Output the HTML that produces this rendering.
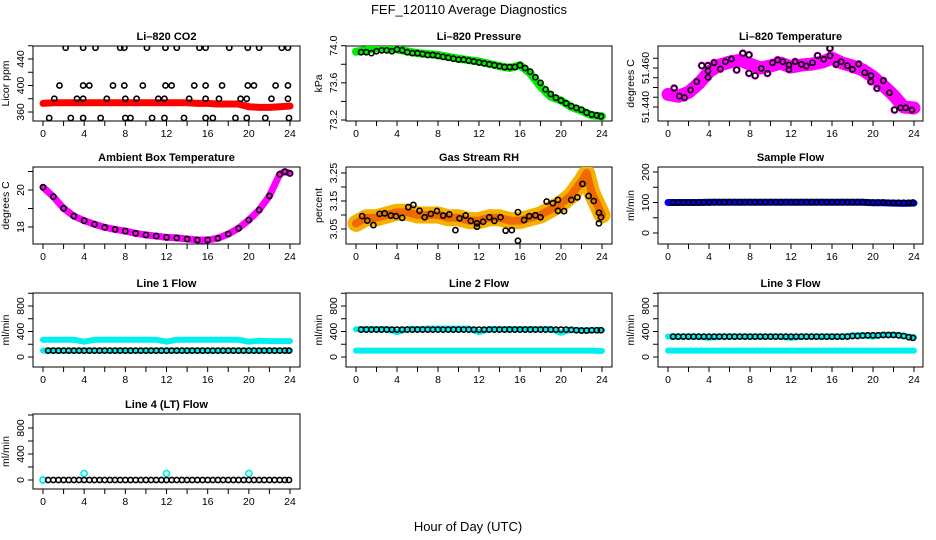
<!DOCTYPE html>
<html><head><meta charset="utf-8">
<style>
body{margin:0;background:#fff;}
svg{display:block;font-family:"Liberation Sans",Arial,sans-serif;}
.tt{font-weight:bold;font-size:11px;text-anchor:middle;}
.tk{font-size:10.5px;text-anchor:middle;}
</style></head>
<body>
<svg id="chart" width="936" height="540" viewBox="0 0 936 540">
<text x="469" y="14" font-size="13" text-anchor="middle">FEF_120110  Average Diagnostics</text>
<text x="468" y="531" font-size="13" text-anchor="middle">Hour of Day (UTC)</text>
</svg>
<script>
// ---------- data ----------
const hours = [0,1,2,3,4,5,6,7,8,9,10,11,12,13,14,15,16,17,18,19,20,21,22,23,24];
const halfHours = [0.5,1,1.5,2,2.5,3,3.5,4,4.5,5,5.5,6,6.5,7,7.5,8,8.5,9,9.5,10,10.5,11,11.5,12,12.5,13,13.5,14,14.5,15,15.5,16,16.5,17,17.5,18,18.5,19,19.5,20,20.5,21,21.5,22,22.5,23,23.5,23.9];

// CO2
const co2Hours = [2.2,3.9,5.1,7.5,7.9,10.1,11.9,13,15.2,15.8,18.1,19.9,21,23.2,23.8, 1.6,3.9,4.5,6.8,7.9,9.7,11.9,12.5,14.7,15.8,17.4,19.9,20.5,22.6,23.8, 1.1,3.3,3.9,6.2,8,9.1,11.2,11.8,14.2,15.8,17.1,19.2,19.8,22.2,23.8, 0.6,2.7,3.9,5.6,8,8.5,10.6,11.8,13.7,15.8,16.5,18.7,19.8,21.6,23.9];
const co2Values = [457,457,457,457,457,457,457,457,457,457,457,457,457,457,457, 400,400,400,400,400,400,400,400,400,400,400,400,400,400,400, 380,380,380,380,380,380,380,380,380,380,380,380,380,380,380, 351,351,351,351,351,351,351,351,351,351,351,351,351,351,351];
const co2Band = [373,374,374,374,374,374,374,374,374,374,374,374,374,374,374,373,373,372,372,372,368,367,367,368,369];

// Pressure
const presHours = [0,2,4,6,8,10,12,14,15,16,17,18,19,20,21,22,23,24];
const presValues = [73.935,73.97,73.96,73.92,73.90,73.86,73.83,73.78,73.76,73.79,73.70,73.56,73.45,73.41,73.34,73.30,73.25,73.24];
const presPoints = [73.93,73.93,73.92,73.94,73.95,73.95,73.94,73.96,73.95,73.93,73.92,73.92,73.91,73.90,73.90,73.89,73.88,73.87,73.86,73.85,73.85,73.84,73.83,73.82,73.81,73.80,73.79,73.78,73.77,73.77,73.77,73.79,73.76,73.72,73.66,73.60,73.53,73.48,73.44,73.41,73.38,73.35,73.33,73.31,73.28,73.26,73.25,73.24];

// Li-820 temperature
const tempHours = [0.6,1.1,1.6,2.2,2.8,3.3,3.9,3.9,3.9,4.5,5.1,5.6,6.2,6.7,7.3,7.9,7.9,8.5,9.1,9.7,10.2,10.7,11.2,11.8,11.8,12.4,13,13.5,14.1,14.6,15.2,15.8,15.8,16.4,16.9,17.5,18,18.6,19.2,19.8,19.8,20.4,21,21.6,22.1,22.7,23.2,23.8];
const tempValues = [51.4496,51.4456,51.4448,51.4487,51.4530,51.4612,51.4612,51.4585,51.4552,51.4627,51.4595,51.4632,51.4646,51.4590,51.4675,51.4667,51.4573,51.4561,51.4598,51.4573,51.4627,51.4641,51.4632,51.4615,51.4593,51.4632,51.4619,51.4610,51.4627,51.4663,51.4645,51.4663,51.4701,51.4619,51.4632,51.4612,51.4593,51.4620,51.4576,51.4561,51.4530,51.4496,51.4535,51.4473,51.4385,51.4396,51.4396,51.4385];
const tempBand = [51.4465,51.4455,51.4475,51.4520,51.4580,51.4615,51.4630,51.4640,51.4620,51.4600,51.4610,51.4625,51.4605,51.4615,51.4620,51.4630,51.4650,51.4625,51.4610,51.4590,51.4555,51.4510,51.4460,51.4400,51.4395];

// Ambient box temperature
const ambHours = [0,1,2,3,4,5,6,7,8,9,10,11,12,13,14,15,16,17,18,19,20,21,22,23,23.5,24];
const ambValues = [20.15,19.64,19.01,18.59,18.34,18.15,17.98,17.87,17.78,17.66,17.57,17.51,17.44,17.41,17.35,17.30,17.30,17.39,17.62,17.93,18.38,18.92,19.68,20.85,20.99,20.90];

// Gas stream RH
const rhHours = [0.6,1.1,1.7,2.3,2.8,3.4,3.9,4.5,5.1,5.6,6.2,6.7,7.3,7.9,8.5,9.1,9.7,10.1,10.7,11.2,11.8,11.8,12.4,13,13.5,14.1,14.6,15.2,15.8,15.8,16.4,16.9,17.5,18,18.6,19.2,19.7,19.7,20.3,21,21.6,22.1,22.7,23.2,23.7,23.7,23.9];
const rhValues = [3.096,3.080,3.064,3.104,3.106,3.098,3.096,3.090,3.128,3.136,3.115,3.092,3.104,3.114,3.098,3.102,3.046,3.088,3.098,3.079,3.070,3.058,3.076,3.092,3.079,3.092,3.044,3.046,3.008,3.110,3.082,3.096,3.099,3.092,3.148,3.142,3.154,3.115,3.114,3.154,3.163,3.211,3.168,3.150,3.108,3.070,3.092];
const rhBandHours = [0,1,2,3,4,5,6,7,8,9,10,11,12,13,14,15,16,17,18,19,20,21,22,22.5,23,24];
const rhBand = [3.07,3.09,3.09,3.10,3.11,3.11,3.10,3.10,3.10,3.09,3.09,3.08,3.08,3.09,3.09,3.08,3.08,3.09,3.10,3.12,3.14,3.17,3.22,3.25,3.18,3.10];

// Flows
const sampleFlow = [100,100,100,100,100,100,100,100,101,101,101,101,101,101,101,101,101,101,101,101,101,101,101,101,101,101,101,101,101,101,101,101,101,101,101,101,101,101,100,100,100,100,99,99,99,99,99,100];
const sampleBand = [100,100,100,100,101,101,101,101,101,101,101,101,101,101,101,101,101,101,101,101,99,99,98,97,98];
const line1Black = [100,100,100,100,100,100,100,100,100,100,100,100,100,100,100,100,100,100,100,100,100,100,100,100,100,100,100,100,100,100,100,100,100,100,100,100,100,100,100,100,100,100,100,100,100,100,100,100];
const line1Upper = [270,270,270,270,240,270,270,270,270,270,270,270,240,270,270,270,270,270,270,270,240,255,250,250,250];
const line1Lower = [100,100,100,100,100,100,100,100,100,100,100,100,100,100,100,100,100,100,100,100,100,100,100,100,100];
const line2Black = [430,430,430,430,430,430,430,430,430,430,430,430,430,430,430,430,430,430,430,430,430,430,430,430,430,430,430,430,430,430,430,430,430,430,430,430,430,430,430,430,430,425,420,415,415,420,420,420];
const line2Upper = [435,440,440,440,390,440,440,445,445,445,445,445,390,440,440,440,440,440,440,440,380,430,420,420,420];
const line2Lower = [100,100,100,100,100,100,100,100,100,100,100,100,100,100,100,100,100,100,100,100,100,100,100,100,95];
const line3Black = [320,320,320,320,320,320,320,320,320,320,320,320,320,320,320,320,320,320,320,320,320,320,320,320,320,320,320,320,320,320,320,320,320,320,320,330,330,335,340,340,340,345,345,345,340,330,310,300];
const line3Upper = [320,320,320,320,300,320,320,320,320,320,320,320,300,320,320,320,320,320,340,345,320,350,350,330,310];
const line3Lower = [100,100,100,100,100,100,100,100,100,100,100,100,100,100,100,100,100,100,100,100,100,100,100,100,100];
const line4Black = [0,0,0,0,0,0,0,0,0,0,0,0,0,0,0,0,0,0,0,0,0,0,0,0,0,0,0,0,0,0,0,0,0,0,0,0,0,0,0,0,0,0,0,0,0,0,0,0];
const line4SpikeHours = [0,4,12,20];
const line4Spikes = [0,100,100,100];

// ---------- helpers ----------
const NS = "http://www.w3.org/2000/svg";
const svg = document.getElementById("chart");
function mk(tag, attrs, parent){const e=document.createElementNS(NS,tag);for(const k in attrs)e.setAttribute(k,attrs[k]);(parent||svg).appendChild(e);return e;}
const cols=[{bx0:33,bx1:300,t0:43,t1:290},{bx0:346,bx1:612,t0:356,t1:602},{bx0:658,bx1:923,t0:668,t1:914}];
const rows=[{by0:46,by1:121},{by0:167,by1:244},{by0:293,by1:367},{by0:414,by1:489}];

function panel(name,title,ytitle,c,r,v0,p0,v1,p1,ticks,labels,fmt){
  const C=cols[c],R=rows[r];
  const g=mk("g",{});
  
  
  const sx=h=>C.t0+(C.t1-C.t0)*h/24;
  const sy=v=>p0+(p1-p0)*(v-v0)/(v1-v0);
  const t=mk("text",{x:(C.bx0+C.bx1)/2,y:R.by0-6,class:"tt"},g);t.textContent=title;
  
  
  const box=mk("rect",{x:C.bx0,y:R.by0,width:C.bx1-C.bx0,height:R.by1-R.by0,fill:"none",stroke:"#000","stroke-width":1},g);
  
  
  for(let h=0;h<=24;h+=2){mk("line",{x1:sx(h),x2:sx(h),y1:R.by1,y2:R.by1+5,stroke:"#000"},g);
    if(h%4===0){const l=mk("text",{x:sx(h),y:R.by1+16,class:"tk"},g);l.textContent=h;
      
      }}
  ticks.forEach(v=>{mk("line",{x1:C.bx0,x2:C.bx0-5,y1:sy(v),y2:sy(v),stroke:"#000"},g);});
  labels.forEach(v=>{const y=sy(v);const l=mk("text",{x:C.bx0-9,y:y,class:"tk",transform:`rotate(-90 ${C.bx0-9} ${y})`},g);l.textContent=fmt(v);
    
    });
  const yt=mk("text",{x:C.bx0-24,y:(R.by0+R.by1)/2,class:"tk",transform:`rotate(-90 ${C.bx0-24} ${(R.by0+R.by1)/2})`},g);yt.textContent=ytitle;
  
  
  const clip="c"+name;const cp=mk("clipPath",{id:clip},g);mk("rect",{x:C.bx0,y:R.by0,width:C.bx1-C.bx0,height:R.by1-R.by0},cp);
  const pg=mk("g",{"clip-path":`url(#${clip})`},g);
  return {sx,sy,g:pg};
}
function band(P,xs,vs,color,w,name){
  const pts=xs.map((h,i)=>P.sx(h)+","+P.sy(vs[i])).join(" ");
  const pl=mk("polyline",{points:pts,fill:"none",stroke:color,"stroke-width":w,"stroke-linecap":"round","stroke-linejoin":"round"},P.g);
  
  
}
function dots(P,xs,vs,color,name,r,sw){
  xs.forEach((h,i)=>{const c=mk("circle",{cx:P.sx(h),cy:P.sy(vs[i]),r:r||2.6,fill:"none",stroke:color,"stroke-width":sw||1.6},P.g);
    
    });
}
const f0=v=>String(v), f1=v=>v.toFixed(1), f2=v=>v.toFixed(2), f3=v=>v.toFixed(3);

let P=panel("co2-panel","Li\u2013820 CO2","Licor ppm",0,0,360,112,440,59,[360,380,400,420,440,460],[360,400,440],f0);
band(P,hours,co2Band,"#ff0000",7,"co2-band");
dots(P,co2Hours,co2Values,"#000","co2-point");

P=panel("pressure-panel","Li\u2013820 Pressure","kPa",1,0,73.2,120,74.0,45.7,[73.2,73.4,73.6,73.8,74.0],[73.2,73.6,74.0],f1);
band(P,presHours,presValues,"#00ee00",8,"pressure-band");
dots(P,halfHours,presPoints,"#000","pressure-point");

P=panel("li820-temp-panel","Li\u2013820 Temperature","degrees C",2,0,51.44,107,51.46,68,[51.440,51.445,51.450,51.455,51.460,51.465],[51.440,51.460],f3);
band(P,hours,tempBand,"#ff00ff",13,"temp-band");
dots(P,tempHours,tempValues,"#ff00ff","temp-magenta-point",3.2,1.8);
dots(P,tempHours,tempValues,"#000","temp-point");

P=panel("ambient-panel","Ambient Box Temperature","degrees C",0,1,18,227,20,190,[18,19,20,21],[18,20],f0);
band(P,ambHours,ambValues,"#ff00ff",7,"ambient-band");
dots(P,ambHours,ambValues,"#000","ambient-point");

P=panel("rh-panel","Gas Stream RH","percent",1,1,3.05,229,3.25,173,[3.05,3.10,3.15,3.20,3.25],[3.05,3.15,3.25],f2);
band(P,rhBandHours,rhBand,"#f6b000",17,"rh-band");
band(P,rhBandHours,rhBand,"#ee6a00",8,"rh-band-core");
dots(P,rhHours,rhValues,"#000","rh-point");

P=panel("sample-flow-panel","Sample Flow","ml/min",2,1,0,233,200,172,[0,50,100,150,200],[0,100,200],f0);
band(P,hours,sampleBand,"#0000ee",7,"sample-band");
dots(P,halfHours,sampleFlow,"#000","sample-point");

const ft=[0,200,400,600,800,1000], fl=[0,400,800];
P=panel("line1-panel","Line 1 Flow","ml/min",0,2,0,357,800,306,ft,fl,f0);
band(P,hours,line1Upper,"#00f0f0",6,"line1-upper-band");band(P,hours,line1Lower,"#00f0f0",6,"line1-lower-band");
dots(P,halfHours,line1Black,"#000","line1-point");
P=panel("line2-panel","Line 2 Flow","ml/min",1,2,0,357,800,306,ft,fl,f0);
band(P,hours,line2Upper,"#00f0f0",6,"line2-upper-band");band(P,hours,line2Lower,"#00f0f0",6,"line2-lower-band");
dots(P,halfHours,line2Black,"#000","line2-point");
P=panel("line3-panel","Line 3 Flow","ml/min",2,2,0,357,800,306,ft,fl,f0);
band(P,hours,line3Upper,"#00f0f0",6,"line3-upper-band");band(P,hours,line3Lower,"#00f0f0",6,"line3-lower-band");
dots(P,halfHours,line3Black,"#000","line3-point");
P=panel("line4-panel","Line 4 (LT) Flow","ml/min",0,3,0,480,800,428,ft,fl,f0);
dots(P,line4SpikeHours,line4Spikes,"#00f0f0","line4-spike",3,1.8);
dots(P,halfHours,line4Black,"#000","line4-point");
</script>
</body></html>
